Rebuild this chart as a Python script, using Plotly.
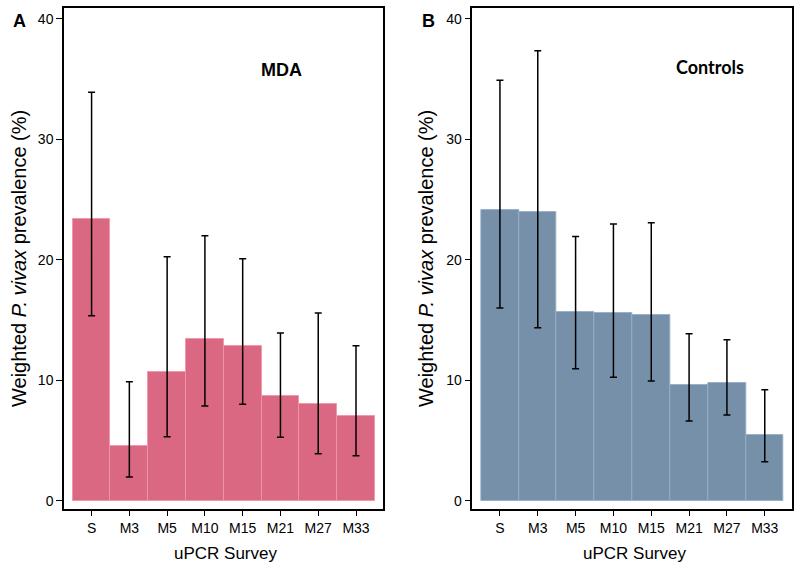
import plotly.graph_objects as go

surveys = ["S", "M3", "M5", "M10", "M15", "M21", "M27", "M33"]

mda_prev = [23.4, 4.5, 10.7, 13.4, 12.85, 8.7, 8.0, 7.05]
mda_lower = [15.35, 1.97, 5.3, 7.86, 8.0, 5.26, 3.9, 3.73]
mda_upper = [33.9, 9.88, 20.25, 21.99, 20.08, 13.92, 15.58, 12.86]

ctrl_prev = [24.15, 23.95, 15.68, 15.55, 15.42, 9.63, 9.74, 5.48]
ctrl_lower = [15.99, 14.36, 10.95, 10.24, 9.93, 6.61, 7.11, 3.24]
ctrl_upper = [34.9, 37.35, 21.94, 22.96, 23.07, 13.86, 13.36, 9.21]

y_ticks = [0, 10, 20, 30, 40]

PINK = "#DA6882"
BLUE = "#7790A9"


def bar(prev, lo, hi, color, edge, xa, ya):
    return go.Bar(
        x=surveys, y=prev, xaxis=xa, yaxis=ya,
        marker=dict(color=color, line=dict(color=edge, width=1)),
        error_y=dict(type="data", symmetric=False,
                     array=[h - p for h, p in zip(hi, prev)],
                     arrayminus=[p - l for l, p in zip(lo, prev)],
                     color="black", thickness=1.5, width=3.5),
        showlegend=False, hoverinfo="x+y",
    )


fig = go.Figure()
fig.add_trace(bar(mda_prev, mda_lower, mda_upper, PINK, "rgba(240,150,170,0.9)", "x", "y"))
fig.add_trace(bar(ctrl_prev, ctrl_lower, ctrl_upper, BLUE, "rgba(150,175,200,0.9)", "x2", "y2"))

font_main = "Liberation Sans, Arial, sans-serif"
xcommon = dict(
    type="category", range=[-0.73, 7.72], showline=True, linecolor="black",
    linewidth=1.5, mirror=True, ticks="outside", ticklen=5, tickwidth=1.2,
    tickcolor="black", showgrid=False, zeroline=False,
    tickfont=dict(family=font_main, size=14, color="black"),
)
ycommon = dict(
    range=[-0.69, 40.9], tickvals=y_ticks, showline=True, linecolor="black",
    linewidth=1.5, mirror=True, ticks="outside", ticklen=6, tickwidth=1.2,
    tickcolor="black", showgrid=False, zeroline=False,
    tickfont=dict(family=font_main, size=14, color="black"),
)

fig.update_layout(
    width=800, height=571,
    margin=dict(l=0, r=0, t=0, b=0),
    paper_bgcolor="white", plot_bgcolor="white",
    bargap=0,
    xaxis=dict(domain=[0.08, 0.479], anchor="y", **xcommon),
    yaxis=dict(domain=[0.1086, 0.986], anchor="x", **ycommon),
    xaxis2=dict(domain=[0.5904, 0.99], anchor="y2", **xcommon),
    yaxis2=dict(domain=[0.1086, 0.986], anchor="x2", **ycommon),
    font=dict(family=font_main, color="black"),
)

ann = [
    dict(text="<b>A</b>", x=19, y=21, size=18, fam=font_main),
    dict(text="<b>B</b>", x=428, y=21, size=18, fam=font_main),
    dict(text="<b>MDA</b>", x=281, y=70, size=18, fam=font_main),
    dict(text="<b>Controls</b>", x=710, y=67, size=18, fam="Lato, sans-serif"),
    dict(text="uPCR Survey", x=225, y=553, size=17, fam=font_main),
    dict(text="uPCR Survey", x=634, y=553, size=17, fam=font_main),
]
for a in ann:
    fig.add_annotation(text=a["text"], x=a["x"] / 800, y=1 - a["y"] / 571,
                       xref="paper", yref="paper", showarrow=False,
                       xanchor="center", yanchor="middle",
                       font=dict(family=a["fam"], size=a["size"], color="black"))

for xp in (19, 426):
    fig.add_annotation(text="Weighted <i>P. vivax</i> prevalence (%)",
                       x=xp / 800, y=1 - 259 / 571, xref="paper", yref="paper",
                       showarrow=False, textangle=-90, xanchor="center",
                       yanchor="middle",
                       font=dict(family=font_main, size=20, color="black"))

fig.write_html(
    "out.html",
    config={"displayModeBar": False},
    post_script="document.body.style.margin='0';document.body.style.overflow='hidden';",
)
